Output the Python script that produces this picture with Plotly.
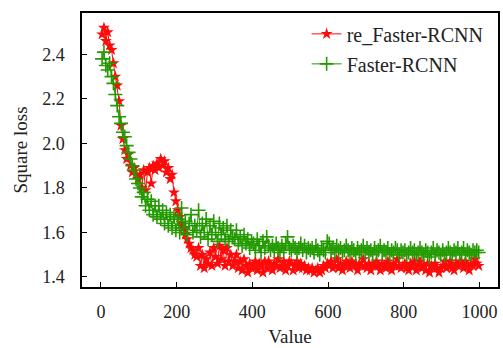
import plotly.graph_objects as go

x_vals = list(range(3, 1001, 5))

re_faster_rcnn = [
    2.49, 2.52, 2.46, 2.50, 2.44, 2.42, 2.36, 2.30, 2.26, 2.19,
    2.08, 2.02, 1.97, 1.93, 1.95, 1.90, 1.87, 1.89, 1.86, 1.84,
    1.86, 1.80, 1.88, 1.79, 1.87, 1.89, 1.82, 1.90, 1.88, 1.91,
    1.89, 1.93, 1.90, 1.92, 1.87, 1.89, 1.84, 1.86, 1.78, 1.74,
    1.70, 1.67, 1.64, 1.62, 1.59, 1.57, 1.55, 1.53, 1.52, 1.50,
    1.49, 1.53, 1.45, 1.50, 1.44, 1.48, 1.46, 1.51, 1.45, 1.53,
    1.49, 1.46, 1.54, 1.48, 1.52, 1.45, 1.53, 1.47, 1.50, 1.45,
    1.47, 1.50, 1.44, 1.47, 1.43, 1.48, 1.45, 1.42, 1.46, 1.44,
    1.45, 1.47, 1.43, 1.46, 1.45, 1.42, 1.47, 1.44, 1.47, 1.45,
    1.43, 1.46, 1.45, 1.48, 1.44, 1.45, 1.47, 1.43, 1.45, 1.47,
    1.46, 1.43, 1.45, 1.47, 1.44, 1.46, 1.44, 1.45, 1.43, 1.44,
    1.43, 1.44, 1.42, 1.43, 1.44, 1.42, 1.43, 1.45, 1.44, 1.46,
    1.45, 1.47, 1.44, 1.45, 1.48, 1.44, 1.46, 1.43, 1.45, 1.47,
    1.46, 1.44, 1.47, 1.45, 1.46, 1.43, 1.46, 1.45, 1.48, 1.45,
    1.44, 1.46, 1.43, 1.46, 1.45, 1.47, 1.45, 1.43, 1.46, 1.45,
    1.44, 1.47, 1.45, 1.43, 1.46, 1.45, 1.48, 1.45, 1.44, 1.45,
    1.46, 1.44, 1.43, 1.46, 1.45, 1.47, 1.43, 1.45, 1.47, 1.44,
    1.45, 1.43, 1.46, 1.42, 1.45, 1.44, 1.46, 1.44, 1.42, 1.44,
    1.45, 1.47, 1.44, 1.45, 1.47, 1.44, 1.43, 1.46, 1.45, 1.47,
    1.46, 1.44, 1.47, 1.45, 1.43, 1.46, 1.45, 1.48, 1.46, 1.45,
]

faster_rcnn = [
    2.38, 2.41, 2.35, 2.33, 2.36, 2.30, 2.27, 2.22, 2.17, 2.12,
    2.09, 2.05, 2.03, 1.99, 1.96, 1.93, 1.90, 1.88, 1.84, 1.82,
    1.80, 1.76, 1.78, 1.72, 1.75, 1.70, 1.74, 1.68, 1.72, 1.67,
    1.72, 1.66, 1.70, 1.64, 1.69, 1.63, 1.68, 1.62, 1.67, 1.61,
    1.66, 1.60, 1.71, 1.62, 1.65, 1.59, 1.64, 1.68, 1.60, 1.63,
    1.61, 1.70, 1.58, 1.64, 1.60, 1.66, 1.57, 1.63, 1.59, 1.65,
    1.60, 1.56, 1.64, 1.59, 1.62, 1.57, 1.63, 1.56, 1.61, 1.58,
    1.57, 1.61, 1.55, 1.58, 1.54, 1.59, 1.55, 1.57, 1.53, 1.56,
    1.55, 1.52, 1.57, 1.54, 1.51, 1.56, 1.53, 1.58, 1.54, 1.52,
    1.54, 1.52, 1.55, 1.53, 1.51, 1.54, 1.52, 1.55, 1.58, 1.53,
    1.52, 1.54, 1.53, 1.51, 1.53, 1.55, 1.52, 1.54, 1.51, 1.53,
    1.52, 1.53, 1.51, 1.54, 1.52, 1.50, 1.53, 1.52, 1.51, 1.56,
    1.55, 1.52, 1.53, 1.51, 1.54, 1.52, 1.53, 1.51, 1.52, 1.54,
    1.52, 1.51, 1.53, 1.52, 1.50, 1.53, 1.51, 1.52, 1.54, 1.51,
    1.53, 1.51, 1.52, 1.50, 1.53, 1.51, 1.52, 1.54, 1.51, 1.52,
    1.51, 1.53, 1.50, 1.52, 1.51, 1.53, 1.52, 1.50, 1.52, 1.51,
    1.52, 1.50, 1.51, 1.53, 1.51, 1.52, 1.50, 1.51, 1.53, 1.51,
    1.50, 1.52, 1.51, 1.49, 1.51, 1.53, 1.50, 1.52, 1.51, 1.50,
    1.52, 1.50, 1.51, 1.53, 1.51, 1.50, 1.52, 1.51, 1.53, 1.50,
    1.51, 1.53, 1.50, 1.52, 1.51, 1.50, 1.52, 1.51, 1.52, 1.51,
]

x_ticks = [0, 200, 400, 600, 800, 1000]
y_ticks = [1.4, 1.6, 1.8, 2.0, 2.2, 2.4]

RED = "#ff0a0a"
GREEN = "#229a00"
FONT = "Liberation Serif"

fig = go.Figure()
fig.add_trace(go.Scatter(
    x=x_vals, y=re_faster_rcnn, name="re_Faster-RCNN", mode="lines+markers",
    legendgroup="a",
    line=dict(color=RED, width=1),
    marker=dict(symbol="star", size=9, color=RED, line=dict(width=0)),
))
fig.add_trace(go.Scatter(
    x=x_vals, y=faster_rcnn, name="Faster-RCNN", mode="lines+markers",
    legendgroup="b",
    line=dict(color=GREEN, width=1),
    marker=dict(symbol="cross-thin", size=10, color=GREEN,
                line=dict(width=1.6, color=GREEN)),
))

axis_common = dict(
    showgrid=False, zeroline=False, showline=True, linecolor="black", linewidth=1.5,
    mirror=True, ticks="inside", ticklen=5, tickwidth=1.2, tickcolor="black",
    tickfont=dict(family=FONT, size=18, color="#222"),
)

fig.update_layout(
    width=503, height=348,
    margin=dict(l=82, r=5, t=13, b=61, autoexpand=False),
    paper_bgcolor="white", plot_bgcolor="white",
    font=dict(family=FONT, color="#222"),
    showlegend=True,
    legend=dict(x=0.54, y=0.995, xanchor="left", yanchor="top",
                bgcolor="rgba(0,0,0,0)", font=dict(family=FONT, size=20, color="#222"),
                itemwidth=30, tracegroupgap=1),
    xaxis=dict(range=[-50, 1049], tickvals=x_ticks, ticklabelstandoff=8,
               title=dict(text="Value", font=dict(family=FONT, size=19), standoff=8),
               **axis_common),
    yaxis=dict(range=[1.355, 2.586], tickvals=y_ticks, tickformat=".1f",
               ticklabelstandoff=12,
               title=dict(text="Square loss", font=dict(family=FONT, size=19), standoff=10),
               **axis_common),
)

fig.write_html("out.html", config={"displayModeBar": False},
               post_script="document.body.style.margin='0';document.body.style.overflow='hidden';")
